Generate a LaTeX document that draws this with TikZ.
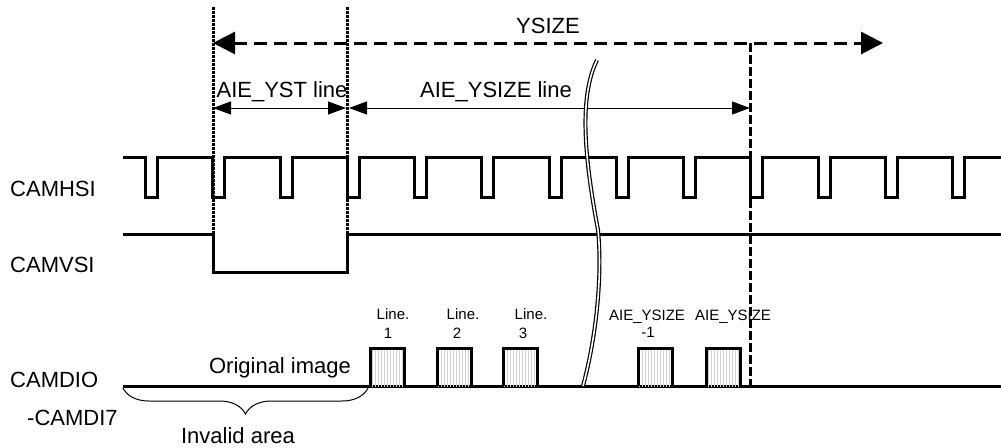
\documentclass[tikz,border=0pt]{standalone}
\usepackage{fontspec}
\setmainfont{Liberation Sans}
\usetikzlibrary{arrows.meta,decorations.pathreplacing,patterns}
\begin{document}
\begin{tikzpicture}[x=1pt,y=-1pt,
  sig/.style={line width=3pt, line join=miter},
  big/.style={font=\fontsize{22}{26}\selectfont, inner sep=0pt, anchor=base},
  small/.style={font=\fontsize{15}{18}\selectfont, inner sep=0pt, anchor=base},
  dotv/.style={line width=3pt, dash pattern=on 3pt off 1pt},
  dashv/.style={line width=3pt, dash pattern=on 9pt off 3pt},
  ybar/.style={line width=3pt, dash pattern=on 13pt off 7pt,
    {Triangle[length=22pt,width=22pt]}-{Triangle[length=22pt,width=22pt]}},
  dimarrow/.style={line width=1pt,
    {Triangle[length=18pt,width=13pt]}-{Triangle[length=18pt,width=13pt]}},
  databox/.style={line width=3pt, pattern=vertical lines, pattern color=black!18},
  brk/.style={line width=1.2pt, double=white, double distance=1.6pt},
]
\useasboundingbox (0,0) rectangle (1001,447);
\fill[white] (0,0) rectangle (1001,447);

% marker coordinates
\coordinate (m1top) at (213,7);
\coordinate (m1bot) at (213,272);
\coordinate (m2top) at (347,7);
\coordinate (m2bot) at (347,272);
\coordinate (m3top) at (750,43);
\coordinate (m3bot) at (750,386);
\coordinate (ysL) at (213,43);
\coordinate (ysR) at (883,43);
\coordinate (a1L) at (213,108);
\coordinate (a1R) at (346,108);
\coordinate (a2L) at (349,108);
\coordinate (a2R) at (750,108);

% vertical marker lines
\draw[dotv] (m1top) -- (m1bot);
\draw[dotv] (m2top) -- (m2bot);
\draw[dashv] (m3top) -- (m3bot);

% dimension arrows
\draw[ybar] (ysL) -- (ysR);
\draw[dimarrow] (a1L) -- (a1R);
\draw[dimarrow] (a2L) -- (a2R);

% labels on top
\node[big] (tys) at (548,33) {YSIZE};
\node[big] (tyst) at (282,97) {AIE\_YST line};
\node[big] (tysz) at (496,97) {AIE\_YSIZE line};

% signal names
\node[big, anchor=base west] (nhs) at (10,196) {CAMHSI};
\node[big, anchor=base west] (nvs) at (10,272) {CAMVSI};
\node[big, anchor=base west] (ndio) at (10,387) {CAMDIO};
\node[big, anchor=base west] (ndi7) at (27,425) {-CAMDI7};

% CAMHSI
\draw[sig] (123,157)
  foreach \p in {145,212,280,347,414,481,549,616,683,750,818,885,952}
  { -- (\p,157) -- (\p,197) -- ({\p+12.5},197) -- ({\p+12.5},157) }
  -- (1001,157);

% CAMVSI
\draw[sig] (123,234) -- (213,234) -- (213,272) -- (347,272) -- (347,234) -- (1001,234);

% CAMDIO
\draw[sig] (123,386) -- (1001,386);
\foreach \x in {370,437,503,638,706}{
  \draw[databox] (\x,386) -- (\x,348) -- ({\x+34},348) -- ({\x+34},386);
}

% data labels
\node[small] (l1a) at (393,319) {Line.};
\node[small] (l1b) at (388,338) {1};
\node[small] (l2a) at (463,319) {Line.};
\node[small] (l2b) at (457,338) {2};
\node[small] (l3a) at (531,319) {Line.};
\node[small] (l3b) at (523,338) {3};
\node[small] (lna) at (647,320) {AIE\_YSIZE};
\node[small] (lnb) at (648,337) {-1};
\node[small] (lma) at (733,320) {AIE\_YSIZE};

\node[big] (orig) at (280,373) {Original image};

% brace
\draw[line width=1pt, decorate, decoration={brace, amplitude=26pt, mirror}]
  (123,388) -- (368,388);
\node[big] (inv) at (238,443) {Invalid area};

% break mark
\draw[brk] (597,60) .. controls (580,95) and (583,150) .. (598,230)
  .. controls (602,270) and (598,330) .. (583,386);
\end{tikzpicture}
\end{document}
